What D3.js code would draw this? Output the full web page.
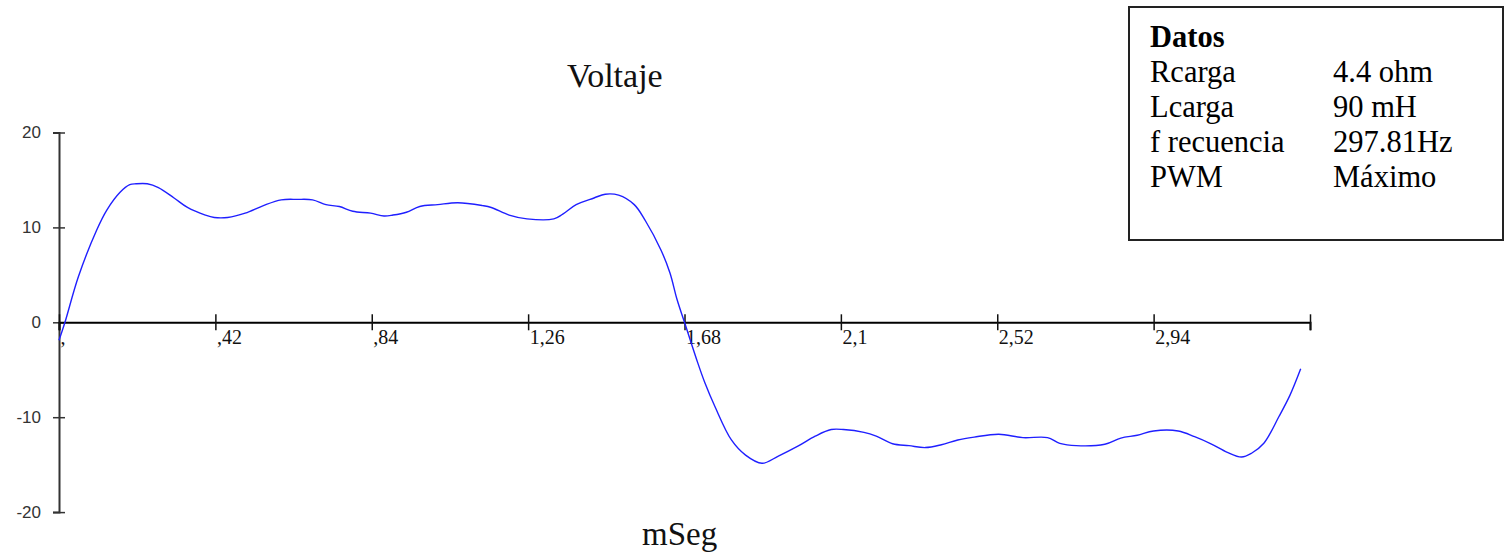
<!DOCTYPE html>
<html>
<head>
<meta charset="utf-8">
<script src="https://cdn.jsdelivr.net/npm/d3@7"></script>
<style>
  html, body { margin: 0; padding: 0; background: #fff; }
  svg { display: block; }
</style>
</head>
<body>
<svg id="chart" width="1506" height="560"></svg>
<script>
// ---- data ----
const title = "Voltaje";
const xAxisTitle = "mSeg";
const timeMs = [0, 0.016, 0.052, 0.101, 0.128, 0.164, 0.19, 0.207, 0.237, 0.267, 0.309, 0.345, 0.393, 0.417, 0.453, 0.5, 0.549, 0.597, 0.64, 0.681, 0.717, 0.753, 0.789, 0.837, 0.873, 0.897, 0.933, 0.969, 1.017, 1.071, 1.137, 1.161, 1.209, 1.257, 1.329, 1.353, 1.389, 1.437, 1.467, 1.503, 1.545, 1.575, 1.617, 1.641, 1.66, 1.68, 1.713, 1.735, 1.762, 1.806, 1.844, 1.888, 1.932, 1.987, 2.031, 2.074, 2.107, 2.162, 2.195, 2.239, 2.283, 2.327, 2.37, 2.414, 2.458, 2.524, 2.589, 2.655, 2.688, 2.732, 2.809, 2.852, 2.896, 2.94, 3.006, 3.05, 3.094, 3.138, 3.176, 3.203, 3.236, 3.277, 3.306, 3.335];
const voltage = [-1.9, 0, 4.8, 9.7, 11.8, 13.7, 14.5, 14.6, 14.6, 14.2, 13.1, 12.1, 11.3, 11.05, 11.05, 11.5, 12.3, 12.9, 12.95, 12.9, 12.4, 12.2, 11.7, 11.5, 11.2, 11.3, 11.6, 12.2, 12.4, 12.6, 12.3, 12.1, 11.3, 10.9, 10.9, 11.4, 12.4, 13.1, 13.5, 13.4, 12.4, 10.7, 7.6, 5.2, 2.4, 0, -3.97, -6.4, -8.9, -12.4, -14.0, -14.86, -14.1, -13.0, -12.0, -11.3, -11.3, -11.6, -12.0, -12.8, -13.0, -13.2, -12.9, -12.4, -12.1, -11.8, -12.15, -12.15, -12.75, -13.0, -12.85, -12.2, -11.9, -11.45, -11.45, -12.05, -12.8, -13.7, -14.2, -13.8, -12.75, -9.9, -7.7, -4.9];
const xTicks = [0, 0.42, 0.84, 1.26, 1.68, 2.1, 2.52, 2.94, 3.36];
const xTickLabels = [",", ",42", ",84", "1,26", "1,68", "2,1", "2,52", "2,94", ""];
const yTicks = [20, 10, 0, -10, -20];
const yTickLabels = ["20", "10", "0", "-10", "-20"];
const legendTitle = "Datos";
const legendNames = ["Rcarga", "Lcarga", "f recuencia", "PWM"];
const legendValues = ["4.4 ohm", "90 mH", "297.81Hz", "Máximo"];

// ---- layout ----
const svg = d3.select("#chart");
const x = d3.scaleLinear().domain([0, 3.36]).range([59, 1310]);
const y = d3.scaleLinear().domain([-20, 20]).range([512.1, 132.5]);

// Y axis
const yAxis = d3.axisLeft(y)
  .tickValues(yTicks)
  .tickFormat((d, i) => yTickLabels[i])
  .tickSizeOuter(0)
  .tickSize(6);
const gy = svg.append("g")
  .attr("transform", `translate(${x(0)},0)`)
  .call(yAxis);
gy.select(".domain").attr("stroke", "#333").attr("stroke-width", 2);
gy.selectAll(".tick line").attr("x1", -6).attr("x2", 6).attr("stroke", "#333").attr("stroke-width", 1.5);
gy.selectAll(".tick text")
  .attr("x", -18)
  .attr("dy", "0.32em")
  .attr("fill", "#333")
  .style("font-family", "'Liberation Sans', Arial, sans-serif")
  .style("font-size", "17px");

// X axis (at zero)
const xAxis = d3.axisBottom(x)
  .tickValues(xTicks)
  .tickFormat((d, i) => xTickLabels[i])
  .tickSizeOuter(0)
  .tickSize(8);
const gx = svg.append("g")
  .attr("transform", `translate(0,${y(0)})`)
  .call(xAxis);
gx.select(".domain").attr("stroke", "#000").attr("stroke-width", 2);
gx.selectAll(".tick line").attr("y1", -8).attr("y2", 8).attr("stroke", "#111").attr("stroke-width", 1.5);
gx.selectAll(".tick text")
  .attr("x", 1)
  .attr("y", 22)
  .attr("dy", 0)
  .attr("text-anchor", "start")
  .attr("fill", "#111")
  .style("font-family", "'Liberation Serif', 'Times New Roman', serif")
  .style("font-size", "20px");

// Line
const line = d3.line()
  .x((d, i) => x(timeMs[i]))
  .y(d => y(d))
  .curve(d3.curveCatmullRom.alpha(0.5));
svg.append("path")
  .datum(voltage)
  .attr("fill", "none")
  .attr("stroke", "#1f1fff")
  .attr("stroke-width", 1.4)
  .attr("d", line);

// Titles
svg.append("text")
  .attr("x", 567).attr("y", 87)
  .style("font-family", "'Liberation Serif', 'Times New Roman', serif")
  .style("font-size", "34px")
  .attr("fill", "#111")
  .text(title);
svg.append("text")
  .attr("x", 642).attr("y", 545)
  .style("font-family", "'Liberation Serif', 'Times New Roman', serif")
  .style("font-size", "33px")
  .attr("fill", "#111")
  .text(xAxisTitle);

// Legend box
const lg = svg.append("g");
lg.append("rect")
  .attr("x", 1129).attr("y", 7)
  .attr("width", 374).attr("height", 233)
  .attr("fill", "#fff")
  .attr("stroke", "#222")
  .attr("stroke-width", 2);
lg.append("text")
  .attr("x", 1150).attr("y", 46.7)
  .style("font-family", "'Liberation Serif', 'Times New Roman', serif")
  .style("font-size", "30.5px")
  .style("font-weight", "bold")
  .text(legendTitle);
legendNames.forEach((n, i) => {
  lg.append("text")
    .attr("x", 1150).attr("y", 81.7 + i * 35)
    .style("font-family", "'Liberation Serif', 'Times New Roman', serif")
    .style("font-size", "30.5px")
    .text(n);
  lg.append("text")
    .attr("x", 1333).attr("y", 81.7 + i * 35)
    .style("font-family", "'Liberation Serif', 'Times New Roman', serif")
    .style("font-size", "30.5px")
    .text(legendValues[i]);
});
</script>
</body>
</html>
